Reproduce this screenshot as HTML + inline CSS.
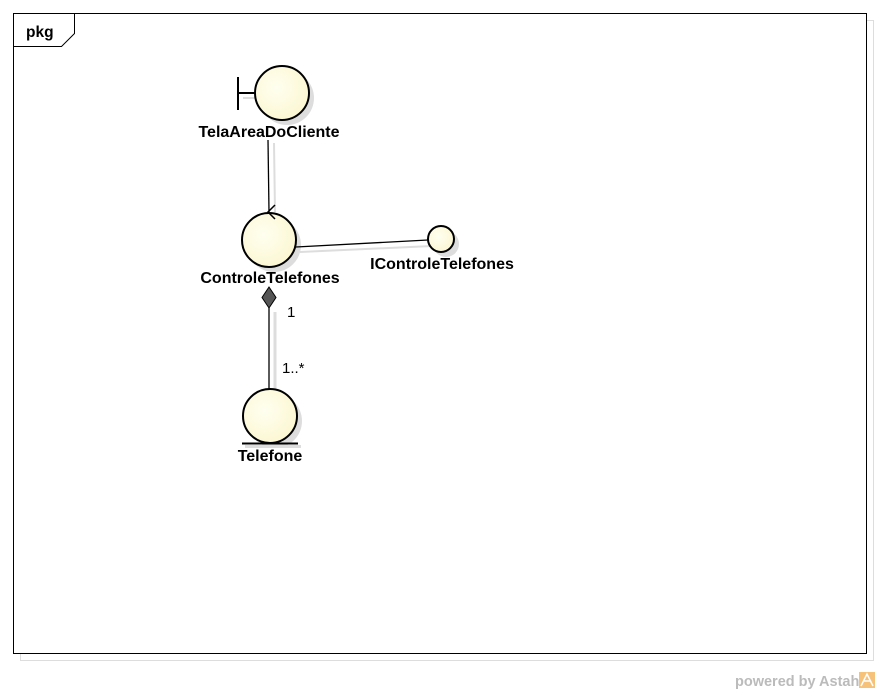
<!DOCTYPE html>
<html><head><meta charset="utf-8"><style>
html,body{margin:0;padding:0;background:#fff;width:880px;height:693px;overflow:hidden}
svg{display:block}
text{font-family:"Liberation Sans",Arial,sans-serif}
</style></head><body>
<svg width="880" height="693" viewBox="0 0 880 693" xmlns="http://www.w3.org/2000/svg">
<defs>
<radialGradient id="g" cx="0.4" cy="0.4" r="0.7"><stop offset="0" stop-color="#fffff0"/><stop offset="1" stop-color="#fbf6cf"/></radialGradient>
</defs>
<rect x="20.5" y="20.5" width="853" height="640" fill="none" stroke="#ddd"/>
<rect x="13.5" y="13.5" width="853" height="640" fill="#fff" stroke="#000"/>
<path d="M13.5 46.5 H61.5 L74.5 33.5 V13.5" fill="none" stroke="#000"/>
<text x="26" y="37" font-size="15.5" font-weight="bold">pkg</text>

<g fill="#ddd" stroke="none">
<circle cx="287" cy="98" r="27"/>
<circle cx="274" cy="245" r="27"/>
<circle cx="446" cy="244" r="13"/>
<circle cx="275" cy="421" r="27"/>
<rect x="245" y="445" width="56" height="3"/>
</g>
<line x1="274" y1="143" x2="275" y2="212" stroke="#ddd" stroke-width="2"/>
<line x1="300" y1="252" x2="432" y2="246" stroke="#ddd" stroke-width="2"/>
<line x1="275" y1="312" x2="275" y2="390" stroke="#ddd" stroke-width="3"/>
<line x1="243" y1="98" x2="260" y2="98" stroke="#ddd" stroke-width="2"/>

<line x1="268" y1="140" x2="269" y2="212" stroke="#000" stroke-width="1.3"/>
<line x1="296" y1="247" x2="428" y2="240" stroke="#000" stroke-width="1.3"/>
<line x1="269" y1="308" x2="269" y2="389" stroke="#000" stroke-width="1.3"/>
<path d="M269 287 L276 297.5 L269 308 L262 297.5 Z" fill="#555" stroke="#000"/>

<line x1="238" y1="77" x2="238" y2="110" stroke="#000" stroke-width="2"/>
<line x1="238" y1="93" x2="255" y2="93" stroke="#000" stroke-width="2"/>
<circle cx="282" cy="93" r="27" fill="url(#g)" stroke="#000" stroke-width="2"/>
<text x="269" y="137" font-size="16" font-weight="bold" text-anchor="middle">TelaAreaDoCliente</text>

<circle cx="269" cy="240" r="27" fill="url(#g)" stroke="#000" stroke-width="2"/>
<path d="M275 205 L268 212 L275 219" fill="none" stroke="#000" stroke-width="1.5"/>
<text x="270" y="283" font-size="16" font-weight="bold" text-anchor="middle">ControleTelefones</text>

<circle cx="441" cy="239" r="13" fill="url(#g)" stroke="#000" stroke-width="2"/>
<text x="442" y="269" font-size="16" font-weight="bold" text-anchor="middle">IControleTelefones</text>

<circle cx="270" cy="416" r="27" fill="url(#g)" stroke="#000" stroke-width="2"/>
<line x1="242" y1="443.5" x2="298" y2="443.5" stroke="#000" stroke-width="2"/>
<text x="270" y="461" font-size="16" font-weight="bold" text-anchor="middle">Telefone</text>

<text x="287" y="317" font-size="15">1</text>
<text x="282" y="373" font-size="15">1..*</text>

<text x="735" y="686" font-size="14.5" font-weight="bold" fill="#bbb">powered by Astah</text>
<rect x="859" y="672" width="16" height="16" fill="#f6c27a"/>
<path d="M861 686 L867 674 L873 686 M864 681 H870" fill="none" stroke="#fff" stroke-width="1.5"/>
</svg>
</body></html>
